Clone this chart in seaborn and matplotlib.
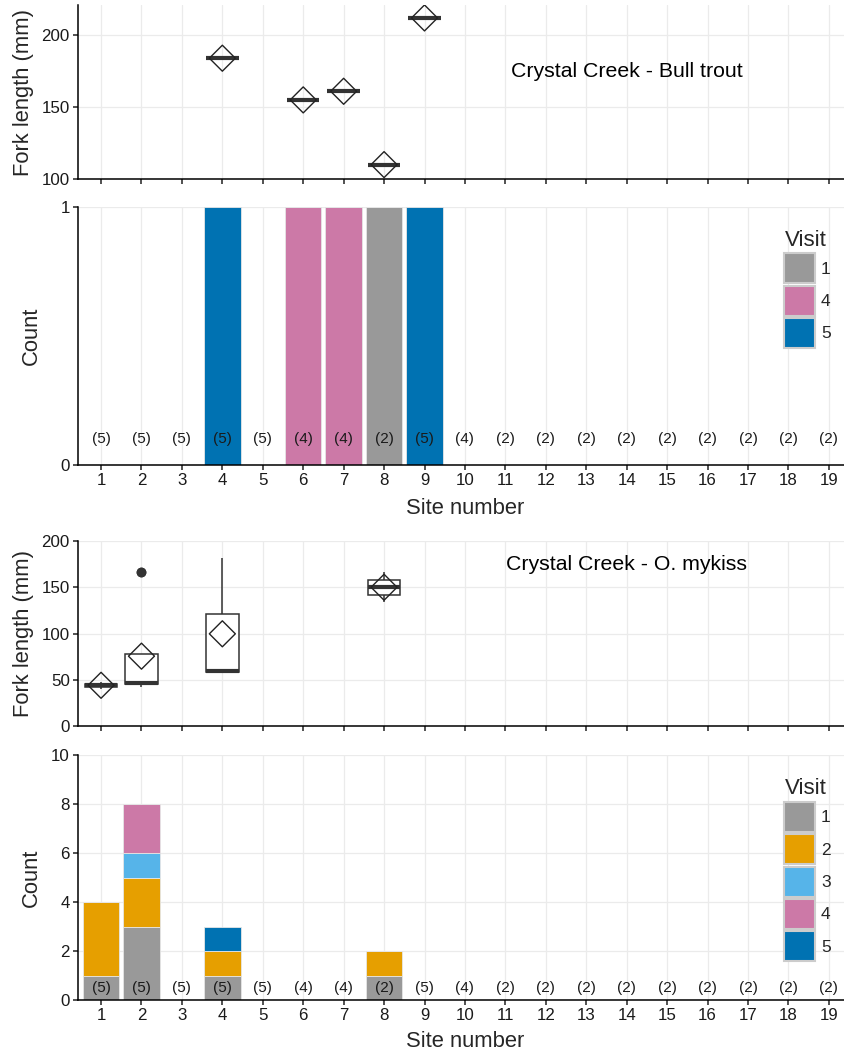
import numpy as np
import pandas as pd
import matplotlib
matplotlib.use("Agg")
import matplotlib.pyplot as plt
import seaborn as sns
from matplotlib.patches import Patch

# ---------------- data ----------------
sites = list(range(1, 20))
n_visits = [5, 5, 5, 5, 5, 4, 4, 2, 5, 4, 2, 2, 2, 2, 2, 2, 2, 2, 2]

# Bull trout (one fish per record)
bt_site = [4, 6, 7, 8, 9]
bt_visit = ["5", "4", "4", "1", "5"]
bt_length = [184, 155, 161, 110, 212]

# O. mykiss (one fish per record)
om_site = [1, 1, 1, 1,
           2, 2, 2, 2, 2, 2, 2, 2,
           4, 4, 4,
           8, 8]
om_visit = ["1", "2", "2", "2",
            "1", "1", "1", "2", "2", "3", "4", "4",
            "1", "2", "5",
            "1", "2"]
om_length = [40, 43, 45, 48,
             42, 45, 45, 46, 46, 48, 166, 166,
             57, 60, 182,
             134, 166]

visit_levels = ["1", "2", "3", "4", "5"]
visit_colors = ["#999999", "#E69F00", "#56B4E9", "#CC79A7", "#0072B2"]
palette = dict(zip(visit_levels, visit_colors))

bt = pd.DataFrame({"site": bt_site, "visit": bt_visit, "length": bt_length})
om = pd.DataFrame({"site": om_site, "visit": om_visit, "length": om_length})

# ---------------- style ----------------
sns.set_theme(style="white")
plt.rcParams["font.family"] = ["Liberation Sans", "DejaVu Sans"]
plt.rcParams["axes.edgecolor"] = "black"

W, H = 845, 1053
fig = plt.figure(figsize=(W / 100, H / 100), dpi=100)

xlo, xhi = 0.43, 19.4
left = 78 / W
width = (W - 78) / W


def px_axes(top, bottom):
    return fig.add_axes([left, 1 - bottom / H, width, (bottom - top) / H])


ax1 = px_axes(5, 179)
ax2 = px_axes(207, 465)
ax3 = px_axes(541, 726)
ax4 = px_axes(755, 1000)

tick_fs = 12.2
label_fs = 15.8


def style_axes(ax):
    ax.set_xlim(xlo, xhi)
    ax.set_xticks(sites)
    ax.grid(True, color="#ebebeb", linewidth=0.9)
    ax.set_axisbelow(True)
    for s in ["top", "right"]:
        ax.spines[s].set_visible(False)
    for s in ["left", "bottom"]:
        ax.spines[s].set_color("black")
        ax.spines[s].set_linewidth(1.1)
    ax.tick_params(axis="both", which="major", direction="out", length=3.6,
                   width=1.1, color="#222222", labelsize=tick_fs, pad=2.3,
                   labelcolor="#1a1a1a", bottom=True, left=True)


box_kws = dict(native_scale=True, width=0.8, color="white", linecolor="#333333",
               linewidth=1.1, showcaps=False, fliersize=6,
               medianprops=dict(linewidth=3.0, color="#333333"),
               flierprops=dict(marker="o", markerfacecolor="#333333",
                               markeredgecolor="#333333"))


def mean_points(ax, df):
    m = df.groupby("site", as_index=False)["length"].mean()
    ax.scatter(m["site"], m["length"], marker="D", s=175, facecolors="none",
               edgecolors="#222222", linewidths=1.0, zorder=5)


def count_labels(ax, y):
    for s, n in zip(sites, n_visits):
        ax.text(s, y, f"({n})", ha="center", va="center", fontsize=11,
                color="#1a1a1a", zorder=6)


def visit_legend(ax, levels, ypos):
    handles = [Patch(facecolor=palette[v], edgecolor="#cccccc", linewidth=1.5)
               for v in levels]
    leg = ax.legend(handles, levels, title="Visit", loc="upper left",
                    bbox_to_anchor=(0.921, ypos), frameon=False,
                    fontsize=12.5, title_fontsize=16, handlelength=1.76,
                    handleheight=2.28, labelspacing=0.14, handletextpad=0.35,
                    borderpad=0, borderaxespad=0, alignment="left")
    return leg


# ---------- Panel 1: Bull trout fork length ----------
sns.boxplot(data=bt, x="site", y="length", ax=ax1, **box_kws)
mean_points(ax1, bt)
style_axes(ax1)
ax1.set_ylim(100, 221)
ax1.set_yticks([100, 150, 200])
ax1.set_xticklabels([])
ax1.set_xlabel("")
ax1.set_ylabel("Fork length (mm)", fontsize=label_fs)
ax1.yaxis.set_label_coords(-0.058, 0.5)
ax1.text(14, 175, "Crystal Creek - Bull trout", ha="center", va="center",
         fontsize=15.3, color="black")

# ---------- Panel 2: Bull trout counts ----------
sns.histplot(data=bt, x="site", hue="visit", hue_order=["5", "4", "1"],
             multiple="stack", discrete=True, shrink=0.9, palette=palette,
             edgecolor="#e6e6e6", linewidth=0.6, alpha=1, legend=False, ax=ax2)
style_axes(ax2)
ax2.set_ylim(0, 1)
ax2.set_yticks([0, 1])
ax2.set_xticklabels([str(s) for s in sites])
ax2.set_ylabel("Count", fontsize=label_fs)
ax2.yaxis.set_label_coords(-0.047, 0.5)
ax2.set_xlabel("Site number", fontsize=label_fs)
ax2.xaxis.set_label_coords(0.505, -0.126)
count_labels(ax2, 0.1)
visit_legend(ax2, ["1", "4", "5"], 0.912)

# ---------- Panel 3: O. mykiss fork length ----------
sns.boxplot(data=om, x="site", y="length", ax=ax3, **box_kws)
mean_points(ax3, om)
style_axes(ax3)
ax3.set_ylim(0, 200)
ax3.set_yticks([0, 50, 100, 150, 200])
ax3.set_xticklabels([])
ax3.set_xlabel("")
ax3.set_ylabel("Fork length (mm)", fontsize=label_fs)
ax3.yaxis.set_label_coords(-0.058, 0.5)
ax3.text(14, 175, "Crystal Creek - O. mykiss", ha="center", va="center",
         fontsize=15.3, color="black")

# ---------- Panel 4: O. mykiss counts ----------
sns.histplot(data=om, x="site", hue="visit", hue_order=visit_levels[::-1],
             multiple="stack", discrete=True, shrink=0.9, palette=palette,
             edgecolor="#e6e6e6", linewidth=0.6, alpha=1, legend=False, ax=ax4)
style_axes(ax4)
ax4.set_ylim(0, 10)
ax4.set_yticks([0, 2, 4, 6, 8, 10])
ax4.set_xticklabels([str(s) for s in sites])
ax4.set_ylabel("Count", fontsize=label_fs)
ax4.yaxis.set_label_coords(-0.047, 0.5)
ax4.set_xlabel("Site number", fontsize=label_fs)
ax4.xaxis.set_label_coords(0.505, -0.128)
count_labels(ax4, 0.5)
visit_legend(ax4, visit_levels, 0.905)

fig.savefig("out.png", dpi=100)
